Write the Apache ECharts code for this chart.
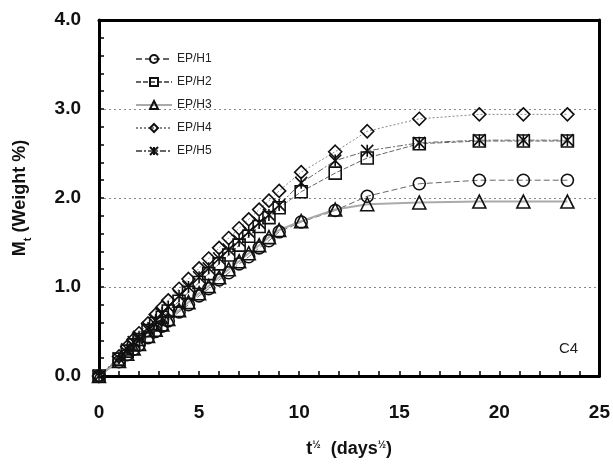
<!DOCTYPE html>
<html>
<head>
<meta charset="utf-8">
<script src="https://cdn.jsdelivr.net/npm/echarts@6/dist/echarts.min.js"></script>
<style>
html,body{margin:0;padding:0;background:#fff;}
#c{width:613px;height:468px;}
</style>
</head>
<body>
<div id="c"></div>
<script>
var xVals = [0, 1, 1.41, 1.73, 2, 2.45, 2.83, 3.16, 3.46, 4, 4.47, 5, 5.48, 6, 6.48, 7, 7.48, 8, 8.49, 9, 10.1, 11.8, 13.4, 16, 19, 21.2, 23.4];
var H1 = [0,0.16,0.24,0.30,0.35,0.43,0.50,0.56,0.62,0.72,0.80,0.90,0.98,1.08,1.16,1.26,1.34,1.44,1.52,1.62,1.73,1.86,2.02,2.16,2.20,2.20,2.20];
var H2 = [0,0.19,0.28,0.35,0.41,0.51,0.59,0.66,0.73,0.84,0.94,1.05,1.15,1.26,1.36,1.47,1.57,1.68,1.78,1.89,2.07,2.28,2.45,2.61,2.64,2.64,2.64];
var H3 = [0,0.17,0.25,0.31,0.36,0.45,0.52,0.58,0.64,0.74,0.83,0.93,1.01,1.11,1.20,1.29,1.38,1.47,1.56,1.64,1.74,1.87,1.93,1.95,1.96,1.96,1.96];
var H4 = [0,0.22,0.33,0.41,0.48,0.59,0.69,0.77,0.85,0.98,1.09,1.21,1.32,1.44,1.55,1.66,1.76,1.87,1.97,2.08,2.29,2.52,2.75,2.89,2.94,2.94,2.94];
var H5 = [0,0.20,0.30,0.38,0.44,0.54,0.63,0.71,0.78,0.90,1.00,1.11,1.21,1.32,1.42,1.52,1.62,1.72,1.81,1.92,2.17,2.42,2.53,2.62,2.65,2.65,2.65];
var seriesNames = ['EP/H1','EP/H2','EP/H3','EP/H4','EP/H5'];
var yTicks = ['0.0','1.0','2.0','3.0','4.0'];

function pairs(ys){ return xVals.map(function(x,i){ return [x, ys[i]]; }); }

var FONT = 'Liberation Sans, Arial, sans-serif';
var symbols = ['circle','rect','triangle','diamond','path://M0,0L10,10M10,0L0,10M5,0L5,10'];
var sizes = [12,12,13,13,12];
var lineStyles = [
  {color:'#666', width:1, type:[6,3]},
  {color:'#666', width:1, type:[5,2]},
  {color:'#aaa', width:2, type:'solid'},
  {color:'#888', width:1, type:[2,2]},
  {color:'#666', width:1, type:[6,2,2,2]}
];
var datas = [H1,H2,H3,H4,H5];

var series = datas.map(function(d,i){
  return {
    name: seriesNames[i],
    type: 'line',
    data: pairs(d),
    symbol: symbols[i],
    symbolSize: sizes[i],
    showAllSymbol: true,
    lineStyle: lineStyles[i],
    itemStyle: {color:'rgba(255,255,255,0)', borderColor:'#111', borderWidth:1.6},
    emphasis: {disabled:true},
    z: 3
  };
});

var chart = echarts.init(document.getElementById('c'));
chart.setOption({
  animation: false,
  backgroundColor: '#fff',
  textStyle: {fontFamily: FONT},
  grid: {left: 99, right: 13, top: 20, bottom: 92},
  title: {text: 'C4', left: 554, top: 336, textStyle: {fontSize: 15, fontWeight: 'normal', color: '#222', fontFamily: FONT}},
  legend: {
    orient: 'vertical', left: 130, top: 48, itemWidth: 36, itemHeight: 10, itemGap: 11,
    data: seriesNames,
    textStyle: {fontSize: 12, color: '#222', fontFamily: FONT}
  },
  xAxis: [{
    type: 'value', min: 0, max: 25, interval: 5,
    axisLine: {show: true, lineStyle: {color: '#000', width: 3}},
    axisTick: {show: true, inside: true, length: 5, lineStyle: {color: '#000', width: 1.5}},
    minorTick: {show: true, splitNumber: 5, length: 5, lineStyle: {color: '#000', width: 1.5}},
    splitLine: {show: false},
    axisLabel: {fontSize: 19, fontWeight: 'bold', color: '#111', margin: 27},
    name: '{a|t}{s|½}{a|  (days}{s|½}{a|)}',
    nameLocation: 'middle', nameGap: 64,
    nameTextStyle: {rich: {
      a: {fontSize: 18, fontWeight: 'bold', color: '#111', fontFamily: FONT, verticalAlign: 'top', lineHeight: 20},
      s: {fontSize: 10, fontWeight: 'bold', color: '#111', fontFamily: FONT, verticalAlign: 'top', lineHeight: 10}
    }}
  }, {
    type: 'value', min: 0, max: 25, position: 'top',
    axisLine: {show: true, onZero: false, lineStyle: {color: '#000', width: 3}},
    axisTick: {show: false}, axisLabel: {show: false}, splitLine: {show: false}
  }],
  yAxis: [{
    type: 'value', min: 0, max: 4, interval: 1,
    axisLine: {show: true, lineStyle: {color: '#000', width: 3}},
    axisTick: {show: true, inside: true, length: 5, lineStyle: {color: '#000', width: 1.5}},
    minorTick: {show: true, splitNumber: 5, length: 5, lineStyle: {color: '#000', width: 1.5}},
    splitLine: {show: true, lineStyle: {color: '#888', type: [2,3], width: 1}},
    axisLabel: {fontSize: 19, fontWeight: 'bold', color: '#111', margin: 18,
      formatter: function(v){ return yTicks[Math.round(v)]; }},
    name: '{a|M}{s|t}{a| (Weight %)}',
    nameLocation: 'middle', nameGap: 66, nameRotate: 90,
    nameTextStyle: {rich: {
      a: {fontSize: 18, fontWeight: 'bold', color: '#111', fontFamily: FONT, verticalAlign: 'top', lineHeight: 22},
      s: {fontSize: 11, fontWeight: 'bold', color: '#111', fontFamily: FONT, verticalAlign: 'bottom', lineHeight: 22}
    }}
  }, {
    type: 'value', min: 0, max: 4, position: 'right',
    axisLine: {show: true, onZero: false, lineStyle: {color: '#000', width: 3}},
    axisTick: {show: false}, axisLabel: {show: false}, splitLine: {show: false}
  }],
  series: series
});
</script>
</body>
</html>
